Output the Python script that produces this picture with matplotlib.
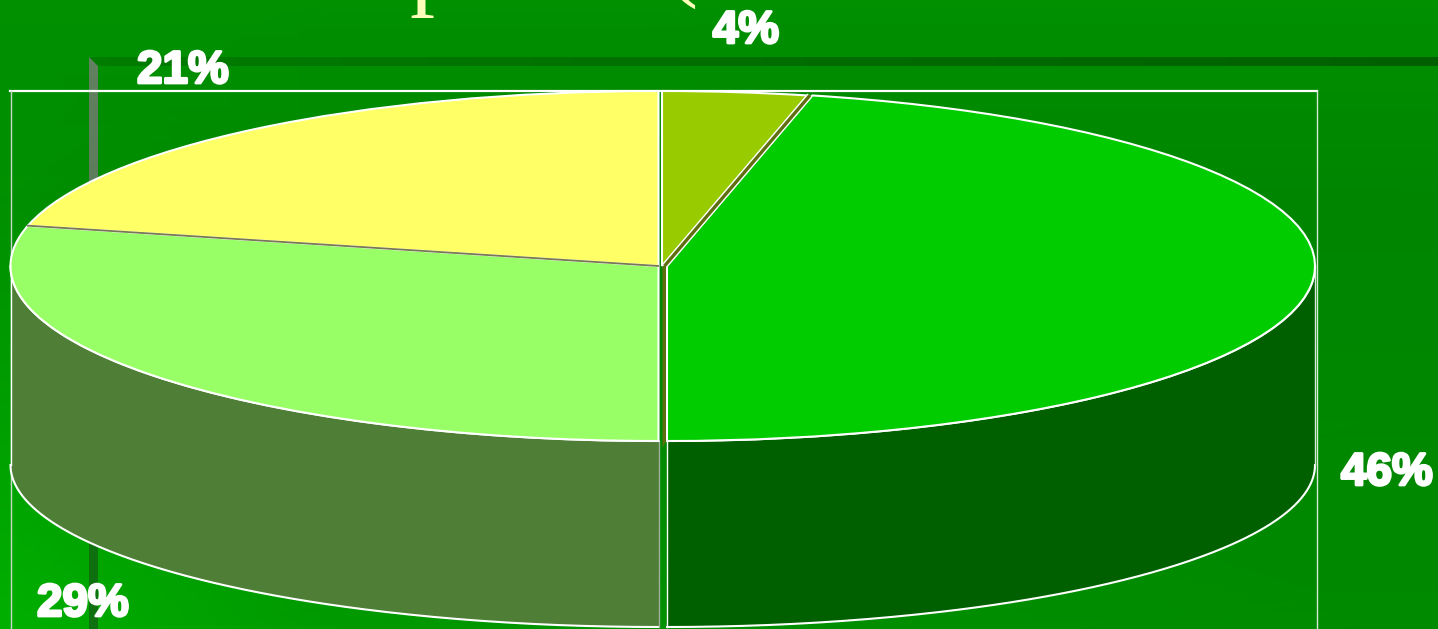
import numpy as np
import matplotlib.pyplot as plt
import matplotlib.patheffects as pe
from matplotlib.colors import LinearSegmentedColormap
from matplotlib.patches import Polygon

W, H = 1438, 629

# slice shares, clockwise from 12 o'clock
shares = [3.6, 46.4, 28.7, 21.3]
pct_labels = ['4%', '46%', '29%', '21%']
top_colors = ['#99CC00', '#00CC00', '#99FF66', '#FFFF66']
wall_colors = ['#6B8E00', '#006000', '#4F7F37', '#B0B040']

# pie geometry in pixels
cx, cy = 658.5, 266
rx, ry = 648, 175
wall_drop = 199
wall_ry = 162
x_shift = [3.5, 8.5, 0, 0]

fig = plt.figure(figsize=(W / 100, H / 100), dpi=100)

# background layer, pixel coordinates
bg = fig.add_axes([0, 0, 1, 1])
bg.axis('off')
greens = LinearSegmentedColormap.from_list('bg', ['#008000', '#00B000'])
gx = [0, 300, 700, 1438]
gy = [0, 200, 400, 629]
gv = [[0x90, 0x90, 0x90, 0x90],
      [0x90, 0x88, 0x85, 0x85],
      [0x9E, 0x90, 0x88, 0x87],
      [0xB0, 0x9C, 0x90, 0x8A]]
bg.pcolormesh(gx, gy, gv, cmap=greens, vmin=0x80, vmax=0xB0, shading='gouraud', zorder=0)

# slide rule lines behind the chart
hbar = LinearSegmentedColormap.from_list('hbar', ['#007C00', '#006000'])
bg.imshow(np.linspace(0, 1, 64)[None, :], cmap=hbar, extent=[89, W, 66, 57], aspect='auto', zorder=1)
vbar = LinearSegmentedColormap.from_list('vbar', ['#608060', '#5A7A5A', '#0F700F', '#0F700F'])
bg.imshow(np.linspace(0, 1, 64)[:, None], cmap=vbar, extent=[89, 98, H, 66], aspect='auto', zorder=2)
bg.add_patch(Polygon([[89, 57], [98, 66], [89, 66]], fc='#608060', ec='none', zorder=2))

# plot area frame
bg.plot([10, 1317], [91, 91], color='white', lw=1.6, zorder=3)
bg.plot([10.5, 10.5], [91, H], color='#C8D8C8', lw=1, zorder=3)
bg.plot([1317, 1317], [91, H], color='#D8E8D8', lw=1, zorder=3)

# clipped heading, only the descenders stay on the slide
bg.text(434, -3, 'p', family='Liberation Serif', fontsize=72, color='#FFFFBB',
        ha='center', va='baseline', zorder=3, clip_on=True)
bg.text(681, -12, '(', family='Liberation Serif', fontsize=72, color='#FFFFBB',
        ha='center', va='baseline', zorder=3, clip_on=True)

bg.set_xlim(0, W)
bg.set_ylim(H, 0)

# pie layer, unit radius stretched to the ellipse
ax = fig.add_axes([0, 0, 1, 1], zorder=2)
wedges, _ = ax.pie(shares, colors=top_colors, startangle=90, counterclock=False,
                   radius=1, wedgeprops={'edgecolor': 'white', 'linewidth': 1.5})
ax.set_aspect('auto')
ax.patch.set_visible(False)
ax.set_xlim(-cx / rx, (W - cx) / rx)
ax.set_ylim((cy - H) / ry, cy / ry)
for wedge, dx in zip(wedges, x_shift):
    wedge.set_center((dx / rx, 0))
    wedge.set_zorder(5)

# side walls, only the part of each slice facing the viewer
edges = np.cumsum([0] + shares) * 3.6
for i in range(len(shares)):
    a0, a1 = max(edges[i], 90), min(edges[i + 1], 270)
    if a1 <= a0:
        continue
    t = np.radians(np.linspace(a0, a1, 200))
    x = x_shift[i] / rx + np.sin(t)
    top = np.cos(t)
    bottom = -wall_drop / ry + wall_ry / ry * np.cos(t)
    ax.fill_between(x, bottom, top, color=wall_colors[i], lw=0, zorder=3)
    ax.plot(x, bottom, color='white', lw=1.5, zorder=4)
    ax.plot(x, top, color='white', lw=1.5, zorder=4)
    # both upright ends of the wall
    shades = ('#D8E8D8', 'white') if i == 1 else ('#A0B0A0', 'white')
    for end, shade in zip((0, -1), shades):
        ax.plot([x[end], x[end]], [bottom[end], top[end]], color=shade, lw=1, zorder=4)

# dark inner faces of the pulled out slices
a = np.radians(edges[1])
mid = 6 / rx
for color, lw in [('white', 4.2), ('#5F6F10', 2.4)]:
    ax.plot([mid, mid + np.sin(a)], [0, np.cos(a)], color=color, lw=lw,
            solid_capstyle='butt', zorder=6)
a = np.radians(edges[3])
ax.plot([0, np.sin(a)], [0, np.cos(a)], color='#777755', lw=1.3, zorder=6)
ax.add_patch(Polygon([[4 / rx, 0], [7.5 / rx, 0], [7.5 / rx, -175 / ry], [4 / rx, -182 / ry]],
                     fc='#5F6F10', ec='none', zorder=6))

# percentage labels
label_pos = [(746, 31), (1387, 473), (83, 604), (183, 71)]
halo = [pe.withStroke(linewidth=2, foreground='white')]
for text, (px, py) in zip(pct_labels, label_pos):
    bg.text(px, py, text, family='Liberation Sans', weight='bold', fontsize=33,
            color='white', ha='center', va='center', path_effects=halo, zorder=4)

fig.savefig('out.png', dpi=100)
